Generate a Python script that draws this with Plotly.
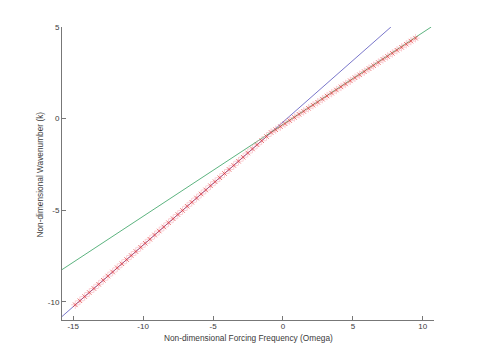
import plotly.graph_objects as go

# Marker series (numerical solution)
omega_pts = [-14.85, -14.52, -14.18, -13.85, -13.52, -13.18, -12.85, -12.52, -12.18, -11.85,
             -11.52, -11.18, -10.85, -10.52, -10.18, -9.85, -9.52, -9.18, -8.85, -8.52,
             -8.18, -7.85, -7.52, -7.18, -6.85, -6.52, -6.18, -5.85, -5.52, -5.18,
             -4.85, -4.52, -4.18, -3.85, -3.52, -3.18, -2.85, -2.52, -2.18, -1.85,
             -1.52, -1.18, -0.85, -0.52, -0.18, 0.15, 0.48, 0.82, 1.15, 1.48,
             1.82, 2.15, 2.48, 2.82, 3.15, 3.48, 3.82, 4.15, 4.48, 4.82,
             5.15, 5.48, 5.82, 6.15, 6.48, 6.82, 7.15, 7.48, 7.82, 8.15,
             8.48, 8.82, 9.15, 9.48]
k_pts = [-10.17, -9.95, -9.72, -9.50, -9.28, -9.05, -8.83, -8.60, -8.38, -8.15,
         -7.93, -7.70, -7.48, -7.26, -7.03, -6.81, -6.59, -6.36, -6.14, -5.92,
         -5.69, -5.47, -5.24, -5.02, -4.79, -4.57, -4.34, -4.12, -3.90, -3.67,
         -3.45, -3.23, -3.00, -2.78, -2.56, -2.33, -2.11, -1.88, -1.66, -1.43,
         -1.21, -0.98, -0.76, -0.61, -0.44, -0.28, -0.11, 0.06, 0.23, 0.39,
         0.56, 0.73, 0.89, 1.06, 1.23, 1.39, 1.56, 1.73, 1.89, 2.06,
         2.23, 2.39, 2.56, 2.73, 2.89, 3.06, 3.23, 3.39, 3.56, 3.73,
         3.89, 4.06, 4.23, 4.39]

# Asymptotic lines (endpoints)
blue_omega = [-15.8, 7.72]
blue_k = [-10.81, 5.0]
green_omega = [-15.8, 10.6]
green_k = [-8.25, 5.0]

x_ticks = [-15, -10, -5, 0, 5, 10]
y_ticks = [-10, -5, 0, 5]
x_title = "Non-dimensional Forcing Frequency (Omega)"
y_title = "Non-dimensional Wavenumber (k)"

fig = go.Figure()
fig.add_trace(go.Scatter(x=blue_omega, y=blue_k, mode="lines",
                         line=dict(color="#6a66c4", width=0.9), showlegend=False))
fig.add_trace(go.Scatter(x=green_omega, y=green_k, mode="lines",
                         line=dict(color="#4aaa70", width=0.9), showlegend=False))
fig.add_trace(go.Scatter(x=omega_pts, y=k_pts, mode="markers",
                         marker=dict(symbol="cross-thin", size=6,
                                     line=dict(color="rgba(248,165,175,0.55)", width=1)),
                         showlegend=False))
fig.add_trace(go.Scatter(x=omega_pts, y=k_pts, mode="markers",
                         marker=dict(symbol="x-thin", size=4.5,
                                     line=dict(color="rgba(226,50,50,0.85)", width=0.8)),
                         showlegend=False))

font = dict(family="Liberation Sans, Arial, sans-serif", size=8, color="#3a3a3a")
PLOT_W, PLOT_H = 372, 293
fig.update_layout(
    width=473, height=352,
    margin=dict(l=54, r=47, t=19, b=40),
    paper_bgcolor="white", plot_bgcolor="white",
    font=font,
    xaxis=dict(range=[-15.8, 10.8], tickvals=x_ticks, ticktext=[str(v) for v in x_ticks],
               showgrid=False, zeroline=False, showline=True, linecolor="#777777",
               linewidth=1, ticks="inside", ticklen=4, tickcolor="#777777",
               ticklabelstandoff=-2),
    yaxis=dict(range=[-11, 5], tickvals=y_ticks, ticktext=[str(v) for v in y_ticks],
               showgrid=False, zeroline=False, showline=True, linecolor="#777777",
               linewidth=1, ticks="inside", ticklen=4, tickcolor="#777777",
               ticklabelstandoff=0),
    annotations=[
        dict(text=x_title, xref="paper", yref="paper", x=(248.5 - 62) / PLOT_W,
             y=-17.7 / PLOT_H, xanchor="center", yanchor="middle", showarrow=False,
             font=dict(size=8.3)),
        dict(text=y_title, xref="paper", yref="paper", x=-23.0 / PLOT_W,
             y=(320 - 174.5) / PLOT_H, xanchor="center", yanchor="middle", showarrow=False,
             textangle=-90, font=dict(size=8.3)),
    ],
)
fig.write_html("out.html")
